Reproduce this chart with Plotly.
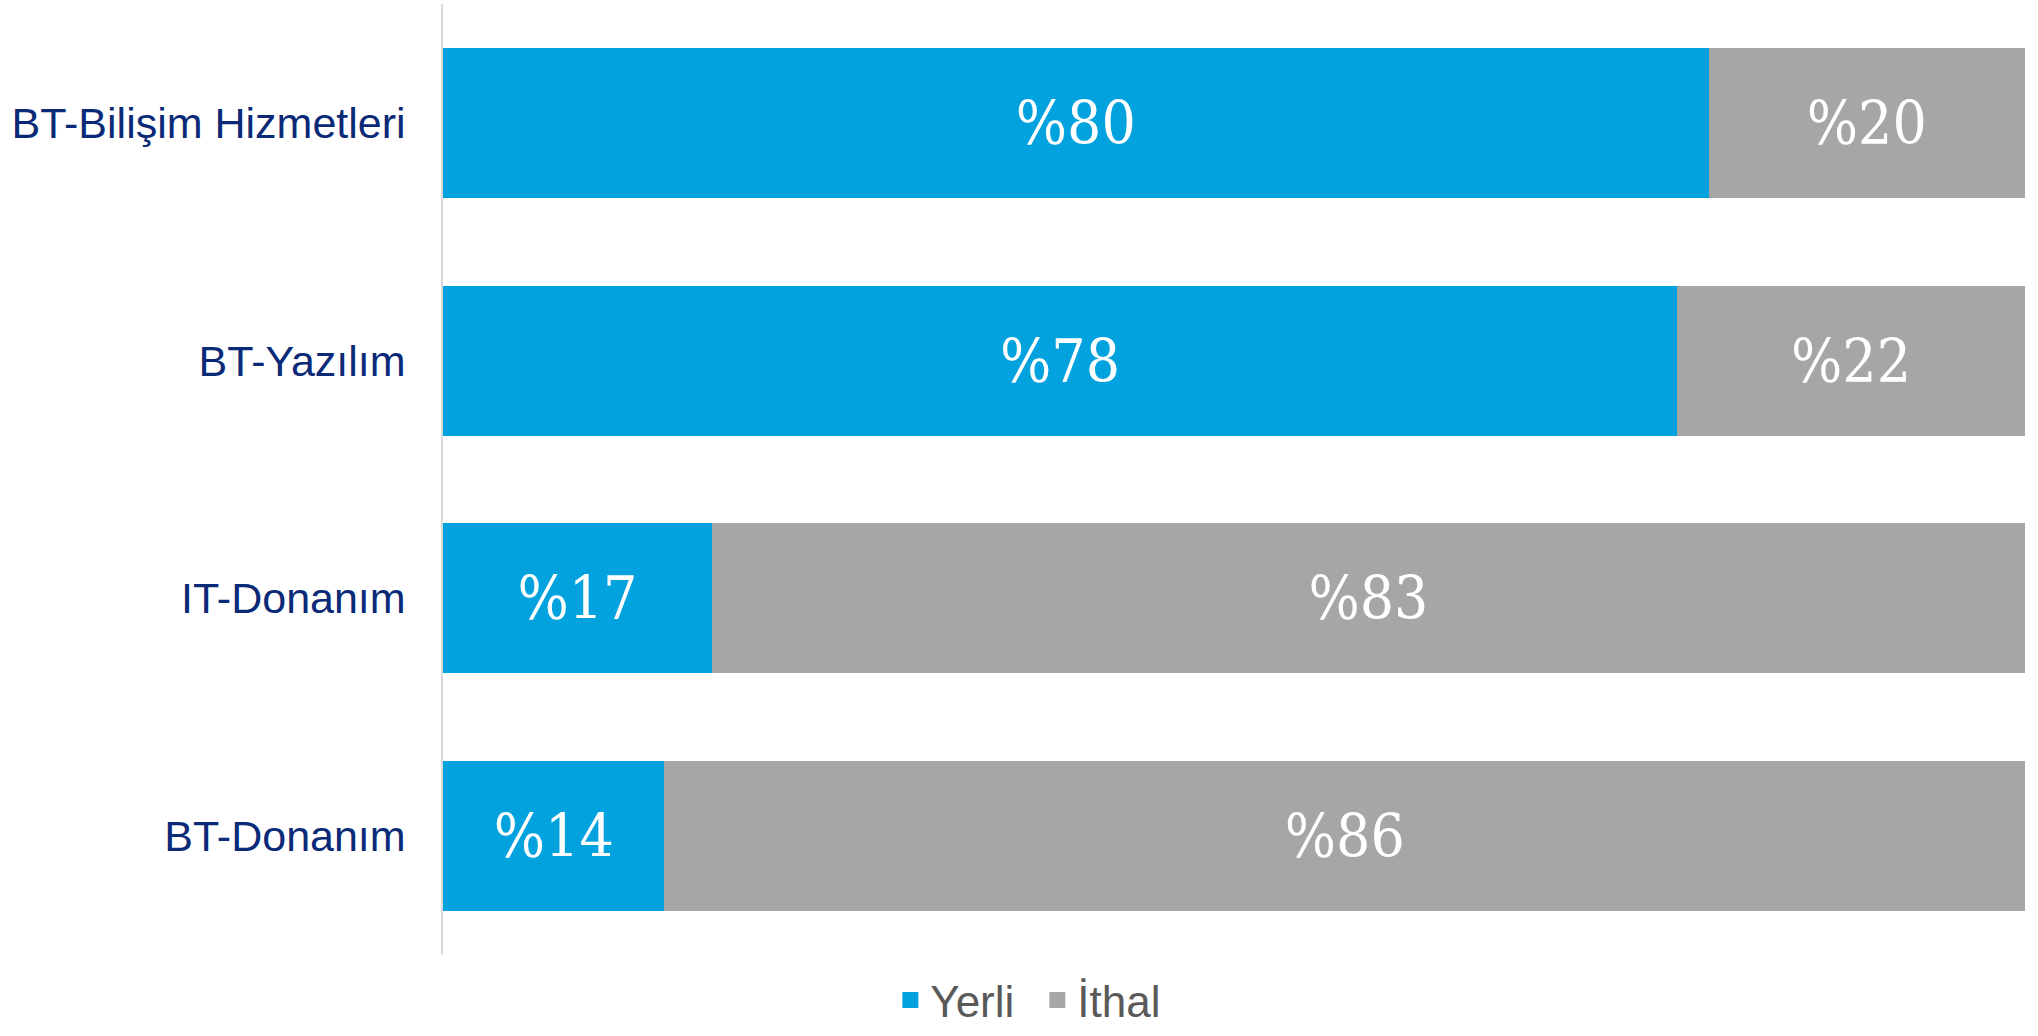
import plotly.graph_objects as go

categories = ["BT-Bilişim Hizmetleri", "BT-Yazılım", "IT-Donanım", "BT-Donanım"]
yerli = [80, 78, 17, 14]
ithal = [20, 22, 83, 86]
series_names = ["Yerli", "İthal"]

BLUE = "#02A2DF"
GRAY = "#A6A6A6"
LABEL_FONT = dict(family="DejaVu Serif Condensed, Liberation Serif, serif", size=60, color="white")

fig = go.Figure()
for name, vals, color in zip(series_names, [yerli, ithal], [BLUE, GRAY]):
    fig.add_trace(
        go.Bar(
            y=categories,
            x=vals,
            name=name,
            orientation="h",
            marker=dict(color=color, line=dict(width=0)),
            text=[f"%{v}" for v in vals],
            textposition="inside",
            insidetextanchor="middle",
            textfont=LABEL_FONT,
            hoverinfo="skip",
            showlegend=False,
        )
    )

# legend entries with larger square swatches
for name, color in zip(series_names, [BLUE, GRAY]):
    fig.add_trace(
        go.Scatter(
            x=[None],
            y=[None],
            mode="markers",
            name=name,
            marker=dict(symbol="square", size=24, color=color),
        )
    )

fig.update_layout(
    barmode="stack",
    bargap=0.37,
    width=2038,
    height=1036,
    plot_bgcolor="white",
    paper_bgcolor="white",
    margin=dict(l=443, r=13, t=4, b=81),
    font=dict(family="Liberation Sans, Arial, sans-serif"),
    legend=dict(
        orientation="h",
        x=0.509,
        xref="container",
        xanchor="center",
        y=0.0,
        yref="container",
        yanchor="bottom",
        borderwidth=0,
        font=dict(size=44, color="#595959"),
        itemwidth=30,
        entrywidth=102,
        traceorder="normal",
    ),
)
fig.update_xaxes(range=[0, 100], visible=False, showgrid=False)
fig.update_yaxes(
    autorange="reversed",
    showline=True,
    linecolor="#D9D9D9",
    linewidth=1.5,
    showgrid=False,
    ticks="",
    ticklabelstandoff=27,
    tickfont=dict(size=43, color="#0A2A78"),
)

fig.write_html(
    "out.html",
    config={"displayModeBar": False},
    post_script="document.body.style.margin='0';",
)
